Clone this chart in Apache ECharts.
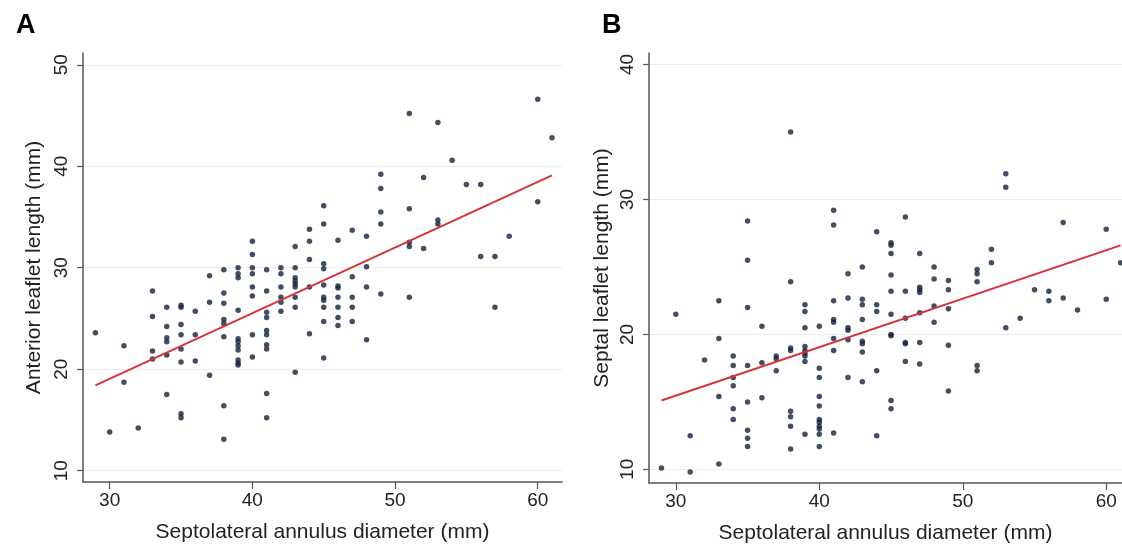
<!DOCTYPE html>
<html>
<head>
<meta charset="utf-8">
<script src="https://cdn.jsdelivr.net/npm/echarts@6/dist/echarts.min.js"></script>
<style>
html,body{margin:0;padding:0;background:#fff;}
#chart{width:1122px;height:550px;}
</style>
</head>
<body>
<div id="chart"></div>
<script>
// ---------- Panel A: anterior leaflet ----------
const aCols = [29, 30, 31, 32, 33, 34, 35, 36, 37, 38, 39, 40, 41, 42, 43, 44, 45, 46, 47, 48, 49, 51, 52, 53, 54, 55, 56, 57, 58, 60, 61];
const aVals = [
  [23.6],
  [13.8],
  [22.3, 18.7],
  [14.2],
  [27.7, 25.2, 21.8, 21.0],
  [26.1, 24.2, 23.1, 22.7, 21.4, 17.5],
  [26.3, 26.1, 24.4, 23.4, 22.0, 20.7, 15.6, 15.2],
  [25.7, 23.4, 20.8],
  [29.2, 26.6, 19.4],
  [29.8, 27.5, 26.5, 24.9, 24.5, 23.2, 16.4, 13.1],
  [30.0, 29.4, 29.0, 25.8, 23.0, 22.7, 22.3, 21.9, 20.9, 20.6, 20.4],
  [32.6, 31.3, 30.0, 29.4, 28.1, 27.2, 23.4, 21.2],
  [29.8, 27.7, 25.6, 25.1, 23.8, 23.4, 22.4, 22.0, 17.6, 15.2],
  [30.0, 29.4, 28.1, 27.1, 26.6, 25.7],
  [32.1, 30.0, 29.0, 28.7, 28.4, 28.1, 27.1, 26.1, 19.7],
  [33.8, 32.6, 30.8, 28.1, 23.5],
  [36.1, 34.3, 30.4, 29.9, 28.3, 27.1, 26.8, 26.1, 24.7, 21.1],
  [32.7, 28.2, 28.0, 27.1, 26.1, 25.1, 24.3],
  [33.7, 29.1, 27.1, 26.1, 24.7],
  [33.1, 30.1, 28.1, 22.9],
  [39.2, 37.8, 35.5, 34.3, 27.4],
  [45.2, 35.8, 32.5, 32.1, 27.1],
  [38.9, 31.9],
  [44.3, 34.7, 34.3],
  [40.6],
  [38.2],
  [38.2, 31.1],
  [31.1, 26.1],
  [33.1],
  [46.6, 36.5],
  [42.8]
];
const aFitX = [29, 61];
const aFitY = [18.4, 39.1];

// ---------- Panel B: septal leaflet ----------
const bCols = [29, 30, 31, 32, 33, 34, 35, 36, 37, 38, 39, 40, 41, 42, 43, 44, 45, 46, 47, 48, 49, 51, 52, 53, 54, 55, 56, 57, 58, 60, 61];
const bVals = [
  [10.1],
  [21.5],
  [12.5, 9.8],
  [18.1],
  [22.5, 19.7, 15.4, 10.4],
  [18.4, 17.7, 16.8, 16.2, 14.5, 13.7],
  [28.4, 25.5, 22.0, 17.7, 15.0, 12.9, 12.3, 11.7],
  [20.6, 17.9, 15.3],
  [18.4, 18.2, 17.3],
  [35.0, 23.9, 19.0, 18.8, 14.3, 13.9, 13.2, 11.5],
  [22.2, 21.7, 20.5, 19.1, 18.8, 18.6, 18.4, 18.0, 12.6],
  [20.6, 17.5, 16.8, 15.4, 14.7, 13.7, 13.5, 13.2, 13.0, 12.6, 11.7],
  [29.2, 28.1, 22.5, 21.1, 20.9, 19.7, 18.8, 12.7],
  [24.5, 22.7, 20.5, 20.3, 19.6, 16.8],
  [25.0, 22.6, 22.2, 21.1, 19.5, 19.3, 18.7, 16.5],
  [27.6, 22.2, 21.7, 17.3, 12.5],
  [26.8, 26.6, 26.0, 24.4, 23.2, 21.5, 20.0, 19.9, 15.1, 14.5],
  [28.7, 23.2, 21.2, 19.4, 19.3, 18.0],
  [26.0, 23.5, 23.3, 23.1, 21.6, 19.4, 17.8],
  [25.0, 24.1, 22.1, 20.9],
  [24.0, 23.3, 21.9, 19.2, 15.8],
  [24.8, 24.5, 23.9, 17.7, 17.3],
  [26.3, 25.3],
  [31.9, 30.9, 20.5],
  [21.2],
  [23.3],
  [23.2, 22.5],
  [28.3, 22.7],
  [21.8],
  [27.8, 22.6],
  [25.3]
];
const bFitX = [29, 61];
const bFitY = [15.1, 26.6];

// ---------- tick labels & titles ----------
const xTicks = [30, 40, 50, 60];
const aYTicks = [10, 20, 30, 40, 50];
const bYTicks = [10, 20, 30, 40];
const xTitle = 'Septolateral annulus diameter (mm)';
const aYTitle = 'Anterior leaflet length (mm)';
const bYTitle = 'Septal leaflet length (mm)';
const panelLetters = ['A', 'B'];

function toPoints(cols, vals) {
  const out = [];
  cols.forEach((c, i) => vals[i].forEach(v => out.push([c, v])));
  return out;
}
function zip(xs, ys) { return xs.map((x, i) => [x, ys[i]]); }

const FONT = '"Liberation Sans", Arial, Helvetica, sans-serif';
const AXIS_COLOR = '#555555';
const TEXT_COLOR = '#222222';
const DOT = '#13233b';
const RED = '#d63338';

function xAxisCfg(gridIndex, min, max) {
  return {
    type: 'value', gridIndex, min, max,
    name: xTitle, nameLocation: 'middle', nameGap: 40,
    nameTextStyle: { fontFamily: FONT, fontSize: 21, color: TEXT_COLOR },
    axisLine: { show: true, onZero: false, lineStyle: { color: AXIS_COLOR, width: 1.5 } },
    axisTick: { show: true, length: 7, inside: false, customValues: xTicks, lineStyle: { color: AXIS_COLOR, width: 1.2 } },
    axisLabel: { customValues: xTicks, margin: 9, fontFamily: FONT, fontSize: 19, color: TEXT_COLOR },
    splitLine: { show: false }
  };
}
function yAxisCfg(gridIndex, min, max, ticks, title, gap) {
  return {
    type: 'value', gridIndex, min, max,
    name: title, nameLocation: 'middle', nameGap: gap, nameRotate: 90,
    nameTextStyle: { fontFamily: FONT, fontSize: 21, color: TEXT_COLOR },
    axisLine: { show: true, onZero: false, lineStyle: { color: AXIS_COLOR, width: 1.5 } },
    axisTick: { show: true, length: 6, inside: false, customValues: ticks, lineStyle: { color: AXIS_COLOR, width: 1.2 } },
    axisLabel: { customValues: ticks, rotate: 90, margin: 12, fontFamily: FONT, fontSize: 19, color: TEXT_COLOR },
    splitLine: { show: true, lineStyle: { color: '#ececec', width: 1.2 } }
  };
}

const chart = echarts.init(document.getElementById('chart'), null, { renderer: 'canvas' });
chart.setOption({
  backgroundColor: '#ffffff',
  animation: false,
  title: [
    { text: panelLetters[0], left: 11, top: 7, textStyle: { fontFamily: FONT, fontSize: 27, fontWeight: 'bold', color: '#000' } },
    { text: panelLetters[1], left: 597, top: 7, textStyle: { fontFamily: FONT, fontSize: 27, fontWeight: 'bold', color: '#000' } }
  ],
  grid: [
    { left: 83, top: 53, width: 479, height: 429, containLabel: false },
    { left: 649, top: 53, width: 473, height: 430, containLabel: false }
  ],
  xAxis: [
    xAxisCfg(0, 28.13, 61.7),
    xAxisCfg(1, 28.13, 61.1)
  ],
  yAxis: [
    yAxisCfg(0, 8.88, 51.16, aYTicks, aYTitle, 38),
    yAxisCfg(1, 8.99, 40.85, bYTicks, bYTitle, 36)
  ],
  series: [
    { type: 'scatter', xAxisIndex: 0, yAxisIndex: 0, data: toPoints(aCols, aVals), symbolSize: 5.5, itemStyle: { color: DOT }, z: 3 },
    { type: 'line', xAxisIndex: 0, yAxisIndex: 0, data: zip(aFitX, aFitY), symbol: 'none', lineStyle: { color: RED, width: 2 }, z: 4 },
    { type: 'scatter', xAxisIndex: 1, yAxisIndex: 1, data: toPoints(bCols, bVals), symbolSize: 5.5, itemStyle: { color: DOT }, z: 3 },
    { type: 'line', xAxisIndex: 1, yAxisIndex: 1, data: zip(bFitX, bFitY), symbol: 'none', lineStyle: { color: RED, width: 2 }, z: 4 }
  ]
});
</script>
</body>
</html>
